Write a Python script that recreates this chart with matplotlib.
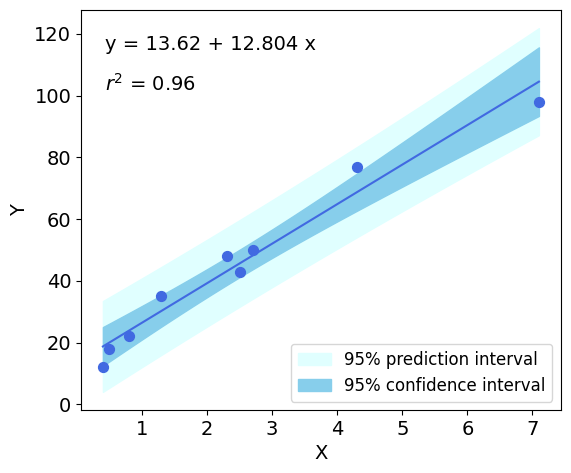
import numpy as np
import matplotlib
matplotlib.use("Agg")
import matplotlib.pyplot as plt

x = np.array([0.4, 0.5, 0.8, 1.3, 2.3, 2.5, 2.7, 4.3, 7.1])
y = np.array([12, 18, 22, 35, 48, 43, 50, 77, 98])

# t quantile, 0.975, df = n - 2 = 7
t_val = 2.364624

def fit_intervals(x, y, xs):
    n = len(x)
    slope, intercept = np.polyfit(x, y, 1)
    y_hat = intercept + slope * x
    resid = y - y_hat
    s = np.sqrt(np.sum(resid ** 2) / (n - 2))
    sxx = np.sum((x - x.mean()) ** 2)
    ys = intercept + slope * xs
    se_conf = s * np.sqrt(1 / n + (xs - x.mean()) ** 2 / sxx)
    se_pred = s * np.sqrt(1 + 1 / n + (xs - x.mean()) ** 2 / sxx)
    r2 = 1 - np.sum(resid ** 2) / np.sum((y - y.mean()) ** 2)
    return intercept, slope, r2, ys, t_val * se_conf, t_val * se_pred

xs = np.linspace(x.min(), x.max(), 200)
b0, b1, r2, ys, ci, pi = fit_intervals(x, y, xs)

plt.rcParams['font.size'] = 14
fig, ax = plt.subplots(figsize=(5.71, 4.73), dpi=100)
fig.subplots_adjust(left=0.142, right=0.982, top=0.979, bottom=0.133)

ax.fill_between(xs, ys - pi, ys + pi, color='lightcyan', label='95% prediction interval')
ax.fill_between(xs, ys - ci, ys + ci, color='skyblue', label='95% confidence interval')
ax.plot(xs, ys, color='royalblue')
ax.scatter(x, y, color='royalblue', s=50, zorder=3)

ax.text(0.05, 0.937, f"y = {b0:.2f} + {b1:.3f} x", transform=ax.transAxes, va='top')
ax.text(0.05, 0.842, f"$r^2$ = {r2:.2f}", transform=ax.transAxes, va='top')

ax.set_xlabel("X")
ax.set_ylabel("Y")
ax.legend(loc='lower right', fontsize=12)

plt.savefig("out.png")
